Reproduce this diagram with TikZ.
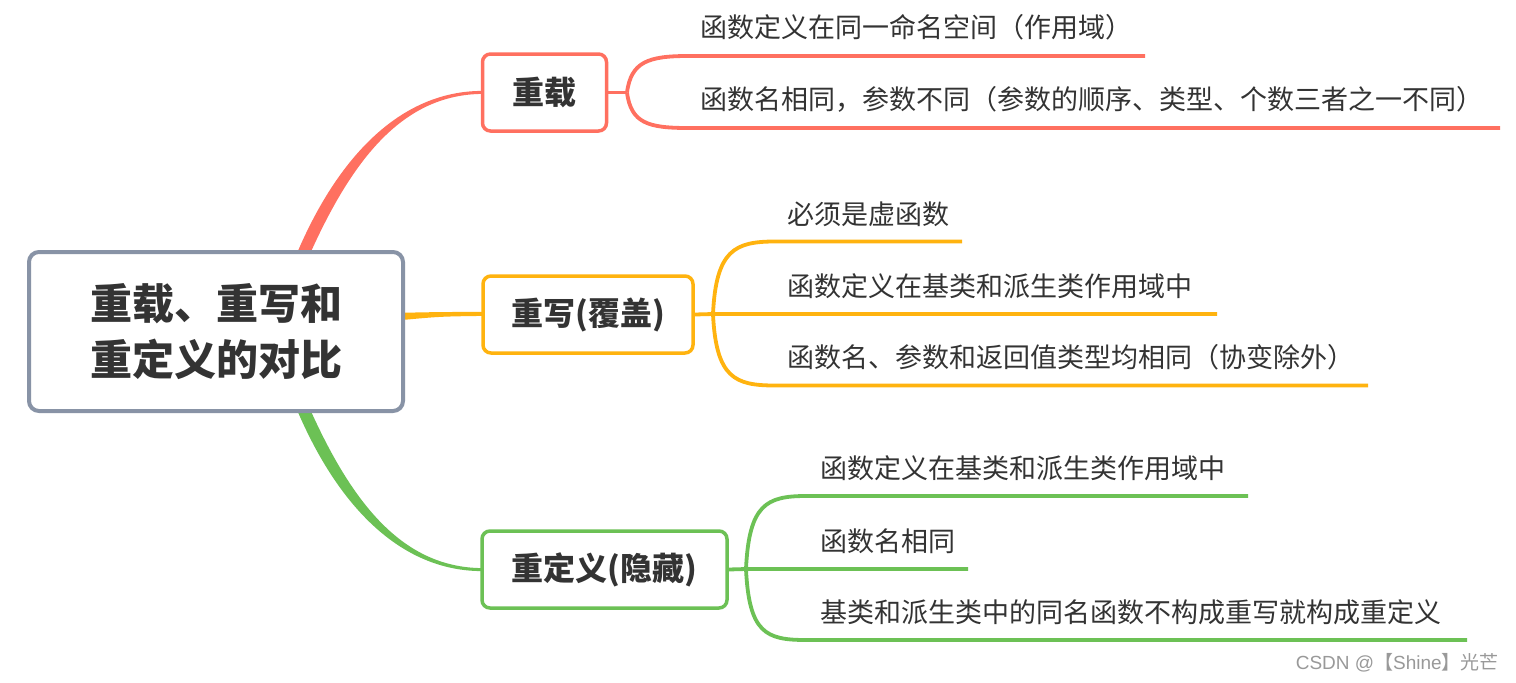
\documentclass[tikz,border=0pt]{standalone}
\usepackage{fontspec}
\setmainfont{Noto Sans CJK SC}
\newfontfamily\arialf{Liberation Sans}
\usetikzlibrary{calc}
\definecolor{cred}{HTML}{FF7060}
\definecolor{cyel}{HTML}{FFB30F}
\definecolor{cgrn}{HTML}{6CC155}
\definecolor{cgray}{HTML}{8893A6}
\definecolor{ctxt}{HTML}{333333}
\definecolor{cwm}{HTML}{999999}
\tikzset{
  rootbox/.style={draw=cgray, line width=4pt, rounded corners=10pt, fill=white,
    minimum width=374pt, minimum height=159pt, inner sep=0pt, align=center,
    text=ctxt, font=\fontsize{42}{56}\selectfont\bfseries},
  subbox/.style={line width=3.5pt, rounded corners=8pt, fill=white,
    minimum height=77pt, inner sep=0pt, text=ctxt,
    font=\fontsize{32}{36}\selectfont\bfseries},
  leaf/.style={anchor=west, inner sep=0pt, text=ctxt, font=\fontsize{27}{30}\selectfont},
  lk/.style={line width=3.8pt},
  wm/.style={anchor=east, inner sep=0pt, text=cwm, font=\fontsize{19}{22}\selectfont}
}
\begin{document}
\begin{tikzpicture}[x=1pt,y=-1pt]
\useasboundingbox (0,0) rectangle (1516,683);
\fill[white] (0,0) rectangle (1516,683);

% placement of the branch boxes (redrawn on top later)
\node[subbox, minimum width=124pt] (b1) at (544.5,92.5) {};
\node[subbox, minimum width=210pt] (b2) at (588,314.5) {};
\node[subbox, minimum width=245pt] (b3) at (604.5,569.5) {};

% tapered main connectors
\coordinate (rs1) at (292.5,264);
\coordinate (rs2) at (305.5,264);
\coordinate (gs1) at (292.5,399);
\coordinate (gs2) at (305.5,399);
\coordinate (ys1) at (400,312.8);
\coordinate (ys2) at (400,320.2);

\fill[cred] (rs1) .. controls (335,158) and (400,90.7) .. ($(b1.west)+(2,-1.6)$)
  -- ($(b1.west)+(2,1.4)$) .. controls (400,94.3) and (349,164) .. (rs2) -- cycle;
\fill[cgrn] (gs1) .. controls (335,505) and (400,571.2) .. ($(b3.west)+(2,1.6)$)
  -- ($(b3.west)+(2,-1.4)$) .. controls (400,567.6) and (349,499) .. (gs2) -- cycle;
\fill[cyel] (ys1) .. controls (440,312) .. ($(b2.west)+(2,-2.6)$)
  -- ($(b2.west)+(2,1.4)$) .. controls (440,316.5) .. (ys2) -- cycle;

% boxes
\node[subbox, draw=cred, minimum width=124pt] at (b1) {重载};
\node[subbox, draw=cyel, minimum width=210pt] at (b2) {重写(覆盖)};
\node[subbox, draw=cgrn, minimum width=245pt] at (b3) {重定义(隐藏)};

\node[rootbox] (root) at (216,331.5) {重载、重写和\\重定义的对比};

% branch 1
\coordinate (j1) at (627,92.5);
\coordinate (r1a) at (688,56);   \coordinate (r1b) at (1145,56);
\coordinate (r2a) at (688,128);  \coordinate (r2b) at (1500,128);
\draw[cred, lk] (b1.east) -- (j1);
\draw[cred, lk] (j1) .. controls (631,62) and (648,56) .. (r1a) -- (r1b);
\draw[cred, lk] (j1) .. controls (631,123) and (648,128) .. (r2a) -- (r2b);
\node[leaf] (t11) at (700,27) {函数定义在同一命名空间（作用域）};
\node[leaf] (t12) at (700,99) {函数名相同，参数不同（参数的顺序、类型、个数三者之一不同）};

% branch 2
\coordinate (j2) at (713,314);
\coordinate (y1a) at (775,241.5); \coordinate (y1b) at (962,241.5);
\coordinate (y2b) at (1217,314);
\coordinate (y3a) at (775,385.5); \coordinate (y3b) at (1368,385.5);
\draw[cyel, lk] (b2.east) -- (j2) -- (y2b);
\draw[cyel, lk] (j2) .. controls (716,250) and (735,241.5) .. (y1a) -- (y1b);
\draw[cyel, lk] (j2) .. controls (716,378) and (735,385.5) .. (y3a) -- (y3b);
\node[leaf] (t21) at (787,214) {必须是虚函数};
\node[leaf] (t22) at (787,286) {函数定义在基类和派生类作用域中};
\node[leaf] (t23) at (787,357) {函数名、参数和返回值类型均相同（协变除外）};

% branch 3
\coordinate (j3) at (746,569);
\coordinate (g1a) at (806,496); \coordinate (g1b) at (1248,496);
\coordinate (g2b) at (968,569);
\coordinate (g3a) at (806,640); \coordinate (g3b) at (1467,640);
\draw[cgrn, lk] (b3.east) -- (j3) -- (g2b);
\draw[cgrn, lk] (j3) .. controls (749,505) and (766,496) .. (g1a) -- (g1b);
\draw[cgrn, lk] (j3) .. controls (749,633) and (766,640) .. (g3a) -- (g3b);
\node[leaf] (t31) at (820,468) {函数定义在基类和派生类作用域中};
\node[leaf] (t32) at (820,541) {函数名相同};
\node[leaf] (t33) at (820,612) {基类和派生类中的同名函数不构成重写就构成重定义};

\node[wm] (wm) at (1499,663) {{\arialf CSDN @}【{\arialf Shine}】光芒};
\end{tikzpicture}
\end{document}
